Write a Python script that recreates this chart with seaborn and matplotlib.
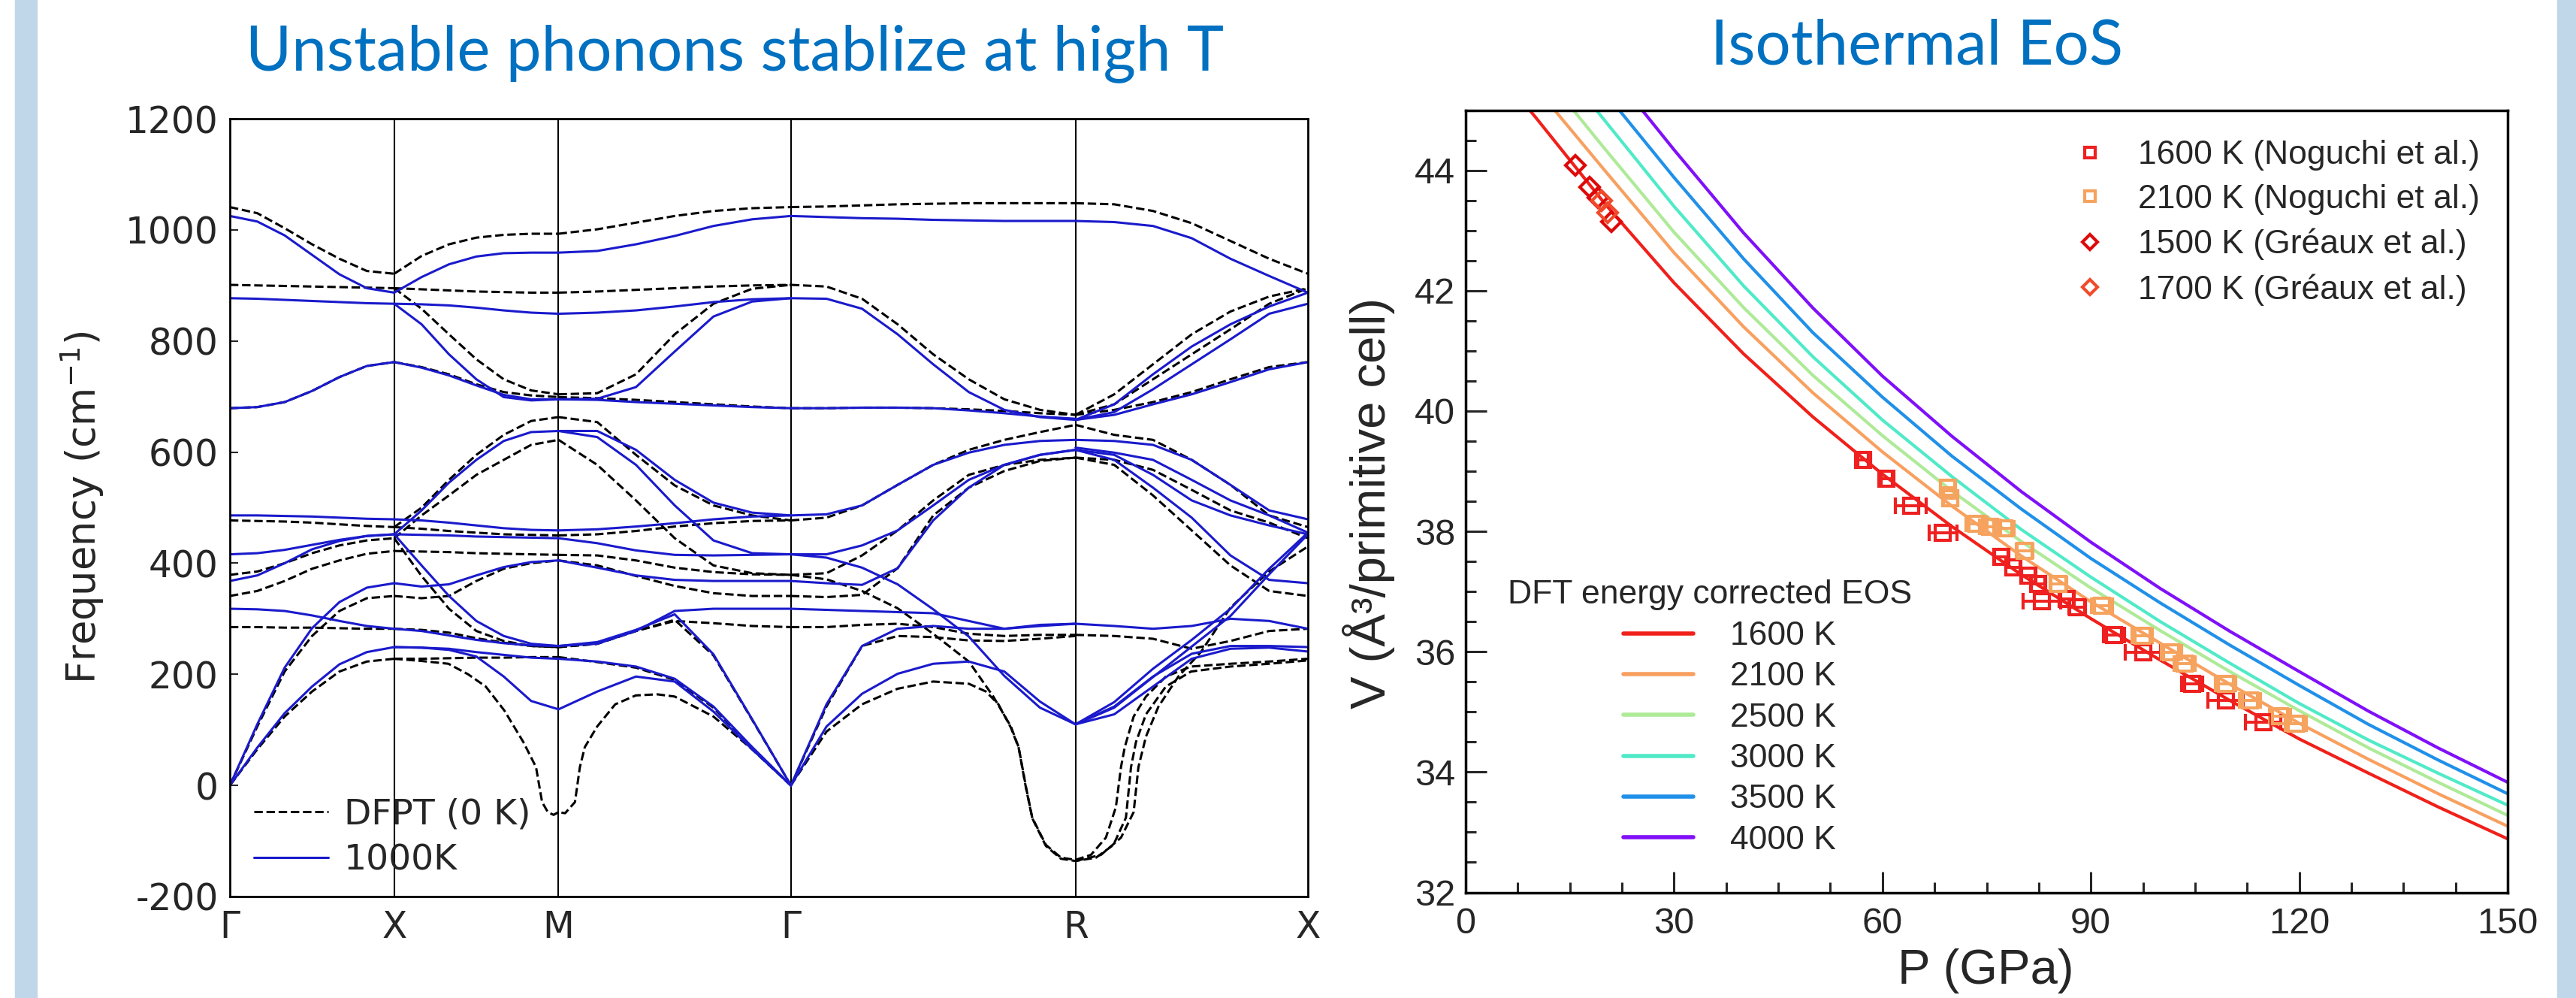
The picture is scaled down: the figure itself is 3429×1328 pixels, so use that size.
import numpy as np
import pandas as pd
import seaborn as sns
import matplotlib.pyplot as plt
from matplotlib.lines import Line2D
from matplotlib.patches import Rectangle
from matplotlib.ticker import MultipleLocator

############################################################## Phonon data (cm^-1)

k_labels = ['Γ', 'X', 'M', 'Γ', 'R', 'X']
seg_lengths = [1.0, 1.0, np.sqrt(2), np.sqrt(3), np.sqrt(2)]
k_nodes = np.concatenate([[0.0], np.cumsum(seg_lengths)])

# DFPT (0 K), one list of curves per path segment, values evenly spaced along the segment
dfpt_GX = [
    [1041, 1030, 1003, 974, 948, 926, 921],
    [901, 900, 899, 898, 897, 896, 895],
    [679, 681, 690, 710, 735, 755, 762],
    [477, 476, 475, 473, 470, 467, 465],
    [379, 385, 400, 418, 432, 441, 445],
    [341, 350, 368, 390, 405, 417, 422],
    [285, 285, 284, 284, 283, 282, 282],
    [0, 106, 205, 269, 314, 337, 341],
    [0, 65, 124, 169, 205, 223, 228],
]
dfpt_XM = [
    [921, 953, 974, 986, 991, 993, 993],
    [895, 893, 891, 889, 888, 887, 887],
    [895, 858, 812, 767, 731, 711, 704],
    [762, 753, 740, 722, 708, 702, 699],
    [465, 500, 550, 595, 631, 656, 663],
    [445, 486, 522, 559, 586, 613, 622],
    [465, 462, 458, 455, 452, 451, 450],
    [422, 421, 420, 418, 417, 416, 415],
    [445, 377, 318, 278, 260, 251, 249],
    [341, 337, 341, 368, 390, 400, 405],
    [282, 280, 275, 265, 257, 251, 249],
    [228, 228, 229, 230, 230, 231, 231],
]
dfpt_MG = [
    [993, 1001, 1013, 1025, 1034, 1039, 1041],
    [887, 889, 892, 895, 898, 900, 901],
    [704, 706, 740, 812, 867, 894, 901],
    [699, 697, 694, 690, 686, 682, 679],
    [663, 654, 595, 540, 504, 486, 477],
    [622, 577, 513, 445, 396, 382, 379],
    [450, 452, 458, 466, 472, 476, 477],
    [415, 414, 405, 392, 384, 380, 379],
    [405, 396, 377, 359, 346, 341, 341],
    [249, 255, 278, 296, 292, 287, 285],
    [249, 255, 278, 298, 234, 118, 0],
    [231, 222, 212, 190, 140, 68, 0],
]
dfpt_GR = [
    [1041, 1042, 1044, 1046, 1047, 1048, 1048, 1048, 1048],
    [901, 898, 876, 830, 776, 731, 695, 676, 667],
    [679, 679, 680, 680, 679, 677, 674, 670, 667],
    [477, 482, 504, 541, 577, 604, 622, 636, 649],
    [379, 382, 414, 459, 513, 559, 577, 586, 590],
    [341, 339, 343, 391, 486, 536, 566, 584, 590],
    [285, 285, 289, 291, 285, 273, 269, 271, 271],
    [0, 142, 251, 269, 267, 261, 260, 264, 269],
]
dfpt_RX = [
    [1048, 1046, 1034, 1012, 980, 948, 921],
    [667, 704, 758, 812, 853, 880, 895],
    [667, 686, 731, 776, 821, 867, 895],
    [667, 676, 690, 708, 731, 753, 762],
    [649, 631, 622, 586, 541, 486, 465],
    [590, 586, 568, 532, 495, 473, 445],
    [590, 577, 522, 459, 396, 350, 341],
    [271, 269, 264, 246, 260, 278, 282],
]

# DFPT soft modes (own k positions)
dip_M_k = [1.0, 1.167, 1.33, 1.45, 1.557, 1.67, 1.786, 1.863, 1.90, 1.935, 1.97, 2.0,
           2.04, 2.10, 2.13, 2.16, 2.235, 2.345, 2.47, 2.60, 2.707, 2.943, 3.178, 3.414]
dip_M_f = [228, 224, 219, 200, 178, 135, 78, 33, -30, -48, -53, -48,
           -50, -30, 33, 69, 106, 146, 162, 164, 160, 124, 65, 0]
softA_k = [3.414, 3.631, 3.847, 4.063, 4.280, 4.497, 4.646, 4.753, 4.800, 4.845, 4.883, 4.966, 5.058,
           5.146, 5.240, 5.331, 5.392, 5.423, 5.446, 5.500, 5.575, 5.696, 5.849, 6.089, 6.324, 6.560]
softA_f = [379, 371, 350, 319, 273, 223, 160, 106, 69, -3, -58, -107, -130,
           -134, -125, -94, -39, 33, 69, 124, 160, 196, 214, 219, 223, 228]
softB_k = [3.414, 3.631, 3.847, 4.063, 4.280, 4.497, 4.601, 4.677, 4.753, 4.800, 4.845, 4.883, 4.966, 5.058,
           5.146, 5.271, 5.377, 5.453, 5.484, 5.514, 5.575, 5.696, 5.849, 6.089, 6.324, 6.560]
softB_f = [0, 97, 146, 174, 187, 183, 169, 146, 104, 68, -5, -59, -109, -132,
           -136, -130, -107, -58, 33, 78, 128, 178, 205, 214, 219, 225]
softC_k = [5.146, 5.301, 5.423, 5.500, 5.529, 5.575, 5.651, 5.772, 5.909, 6.089, 6.324, 6.560]
softC_f = [-136, -125, -94, -48, 33, 88, 142, 196, 240, 320, 385, 430]

# 1000 K
hot_GX = [
    [1025, 1015, 990, 955, 920, 895, 887],
    [877, 876, 874, 872, 870, 868, 867],
    [679, 681, 690, 710, 735, 755, 762],
    [486, 486, 485, 484, 482, 480, 479],
    [416, 418, 424, 433, 442, 449, 452],
    [368, 378, 400, 425, 440, 449, 452],
    [318, 317, 314, 306, 296, 287, 282],
    [0, 110, 212, 283, 330, 356, 364],
    [0, 68, 130, 178, 218, 240, 249],
]
hot_XM = [
    [887, 915, 938, 952, 958, 959, 959],
    [867, 866, 864, 860, 855, 851, 849],
    [867, 830, 776, 731, 699, 693, 695],
    [762, 752, 738, 720, 703, 695, 695],
    [479, 477, 473, 468, 463, 460, 459],
    [452, 495, 545, 586, 620, 636, 638],
    [452, 451, 450, 448, 447, 446, 445],
    [452, 396, 341, 296, 269, 255, 251],
    [364, 358, 362, 378, 393, 402, 405],
    [282, 278, 270, 262, 256, 252, 251],
    [249, 248, 246, 240, 235, 230, 228],
    [249, 248, 244, 232, 196, 152, 137],
]
hot_MG = [
    [959, 962, 974, 989, 1007, 1019, 1025],
    [849, 851, 855, 862, 870, 875, 877],
    [695, 696, 717, 781, 844, 871, 877],
    [695, 694, 690, 687, 684, 681, 679],
    [638, 638, 604, 550, 509, 491, 486],
    [638, 627, 577, 504, 441, 418, 416],
    [459, 461, 466, 472, 479, 484, 486],
    [445, 436, 423, 415, 414, 415, 416],
    [405, 392, 378, 370, 368, 368, 368],
    [251, 255, 278, 314, 318, 318, 318],
    [251, 258, 280, 308, 236, 119, 0],
    [228, 223, 214, 192, 142, 69, 0],
    [137, 169, 196, 187, 133, 65, 0],
]
hot_GR = [
    [1025, 1023, 1021, 1020, 1018, 1017, 1016, 1016, 1016],
    [877, 876, 858, 812, 758, 708, 676, 663, 658],
    [679, 679, 680, 680, 679, 675, 670, 664, 660],
    [486, 488, 504, 541, 577, 599, 613, 620, 622],
    [416, 416, 432, 459, 504, 550, 577, 595, 604],
    [416, 410, 392, 362, 317, 268, 197, 140, 110],
    [368, 364, 361, 391, 477, 536, 577, 595, 604],
    [318, 316, 314, 312, 310, 296, 282, 289, 291],
    [0, 146, 251, 282, 287, 282, 282, 287, 291],
    [0, 106, 165, 201, 219, 223, 205, 151, 110],
]
hot_RX = [
    [1016, 1014, 1007, 985, 948, 917, 887],
    [658, 686, 740, 790, 830, 862, 887],
    [658, 672, 713, 758, 803, 849, 867],
    [658, 667, 686, 704, 726, 749, 762],
    [622, 620, 613, 586, 541, 495, 479],
    [608, 599, 586, 550, 513, 486, 455],
    [604, 595, 559, 513, 486, 468, 452],
    [604, 586, 536, 482, 414, 370, 364],
    [291, 287, 282, 287, 300, 296, 282],
    [110, 142, 196, 237, 251, 251, 249],
    [110, 128, 178, 228, 246, 248, 241],
    [110, 150, 210, 262, 318, 390, 455],
    [110, 140, 195, 250, 305, 380, 452],
]

############################################################## EOS data

eos_T = ['1600 K', '2100 K', '2500 K', '3000 K', '3500 K', '4000 K']
eos_colors = ['#f0201a', '#f8a060', '#aeea98', '#50eac8', '#2090e8', '#8010f8']
P_1600 = [9.2, 10, 20, 30, 40, 50, 60, 70, 80, 90, 100, 110, 120, 130, 140, 150]
V_1600 = [45.0, 44.89, 43.45, 42.13, 40.95, 39.90, 38.95, 38.08, 37.28, 36.55, 35.86, 35.19, 34.55, 33.98, 33.42, 32.89]
P_2100 = [12.8, 20, 30, 40, 50, 60, 70, 80, 90, 100, 110, 120, 130, 140, 150]
V_2100 = [45.0, 44.00, 42.63, 41.40, 40.30, 39.32, 38.42, 37.59, 36.83, 36.14, 35.46, 34.81, 34.21, 33.64, 33.10]
P_2500 = [15.5, 20, 30, 40, 50, 60, 70, 80, 90, 100, 110, 120, 130, 140, 150]
V_2500 = [45.0, 44.36, 42.97, 41.72, 40.59, 39.59, 38.67, 37.83, 37.06, 36.35, 35.67, 35.02, 34.40, 33.83, 33.28]
P_3000 = [18.8, 20, 30, 40, 50, 60, 70, 80, 90, 100, 110, 120, 130, 140, 150]
V_3000 = [45.0, 44.83, 43.40, 42.08, 40.90, 39.85, 38.91, 38.03, 37.24, 36.50, 35.81, 35.14, 34.53, 33.98, 33.45]
P_3500 = [22.1, 30, 40, 50, 60, 70, 80, 90, 100, 110, 120, 130, 140, 150]
V_3500 = [45.0, 43.88, 42.53, 41.30, 40.23, 39.25, 38.37, 37.55, 36.81, 36.11, 35.44, 34.79, 34.20, 33.64]
P_4000 = [25.4, 30, 40, 50, 60, 70, 80, 90, 100, 110, 120, 130, 140, 150]
V_4000 = [45.0, 44.34, 42.96, 41.71, 40.58, 39.58, 38.66, 37.82, 37.05, 36.34, 35.67, 35.01, 34.40, 33.83]

# experiments
nog1600_P = [57.2, 60.6, 64.1, 68.7, 77.1, 78.8, 81.0, 82.4, 82.9, 86.5, 88.0, 93.3, 97.5, 104.6, 109.4, 114.8]
nog1600_V = [39.19, 38.88, 38.42, 37.98, 37.57, 37.40, 37.26, 37.13, 36.84, 36.88, 36.74, 36.28, 35.99, 35.46, 35.19, 34.83]
nog1600_err = [0.8, 0.8, 2.2, 2.0, 1.0, 1.0, 1.0, 1.0, 2.7, 1.0, 1.2, 1.5, 2.5, 1.5, 2.5, 2.5]
nog2100_P = [69.4, 69.8, 73.5, 75.5, 77.5, 80.5, 85.3, 91.6, 97.4, 101.6, 103.5, 109.4, 112.9, 117.2, 119.5]
nog2100_V = [38.72, 38.55, 38.12, 38.08, 38.05, 37.67, 37.13, 36.76, 36.26, 35.99, 35.80, 35.46, 35.19, 34.93, 34.80]
nog2100_err = [1.0, 1.0, 1.5, 1.5, 1.5, 1.2, 1.2, 1.5, 1.5, 1.5, 1.5, 1.5, 1.5, 1.5, 1.5]
gre1500_P = [15.8, 17.8, 19.0, 21.0]
gre1500_V = [44.08, 43.72, 43.55, 43.15]
gre1700_P = [19.6, 20.4]
gre1700_V = [43.50, 43.30]

############################################################## Figure

sns.set_theme(style='white')
plt.rcParams['font.family'] = ['DejaVu Sans']
plt.rcParams['axes.unicode_minus'] = False

W, H = 3429, 1328
fig = plt.figure(figsize=(W / 100, H / 100), dpi=100)
fig.patches.append(Rectangle((20 / W, 0), 29 / W, 1, transform=fig.transFigure, color='#bfd7e9', zorder=0))
fig.patches.append(Rectangle((3404 / W, 0), 25 / W, 1, transform=fig.transFigure, color='#bfd7e9', zorder=0))

title_kw = dict(color='#0070c0', fontsize=60, family='Lato', ha='center', va='baseline')
fig.text(978 / W, 1 - 93 / H, 'Unstable phonons stablize at high T', **title_kw)
fig.text(2552 / W, 1 - 85 / H, 'Isothermal EoS', **title_kw)

############################################################## Left: phonons

rows = []
def add_segments(segs, label):
    for s, curves in enumerate(segs):
        for i, vals in enumerate(curves):
            ks = np.linspace(k_nodes[s], k_nodes[s + 1], len(vals))
            for kk, ff in zip(ks, vals):
                rows.append([label, f'{label}_{s}_{i}', kk, ff])

def add_curve(ks, vals, label, name):
    for kk, ff in zip(ks, vals):
        rows.append([label, name, kk, ff])

add_segments([dfpt_GX, dfpt_XM, dfpt_MG, dfpt_GR, dfpt_RX], 'DFPT (0 K)')
add_curve(dip_M_k, dip_M_f, 'DFPT (0 K)', 'dipM')
add_curve(softA_k, softA_f, 'DFPT (0 K)', 'softA')
add_curve(softB_k, softB_f, 'DFPT (0 K)', 'softB')
add_curve(softC_k, softC_f, 'DFPT (0 K)', 'softC')
add_segments([hot_GX, hot_XM, hot_MG, hot_GR, hot_RX], '1000K')
ph = pd.DataFrame(rows, columns=['set', 'curve', 'k', 'freq'])

ax1 = fig.add_axes([306 / W, 1 - 1193 / H, 1435 / W, 1035 / H])
blue = '#1a1acc'
sns.lineplot(data=ph[ph['set'] == 'DFPT (0 K)'], x='k', y='freq', units='curve', estimator=None, sort=False,
             color='black', linewidth=2.2, dashes=False, ax=ax1, legend=False)
for line in ax1.get_lines():
    line.set_linestyle((0, (3.7, 1.6)))
sns.lineplot(data=ph[ph['set'] == '1000K'], x='k', y='freq', units='curve', estimator=None, sort=False,
             color=blue, linewidth=2.2, ax=ax1, legend=False)
for kk in k_nodes[1:-1]:
    ax1.axvline(kk, color='black', lw=1.5, zorder=0)

ax1.set_xlim(k_nodes[0], k_nodes[-1])
ax1.set_ylim(-200, 1200)
ax1.set_xticks(k_nodes)
ax1.set_xticklabels(k_labels)
ax1.set_yticks(np.arange(-200, 1201, 200))
ax1.tick_params(axis='x', length=0, pad=12, labelsize=35)
ax1.tick_params(axis='y', left=True, direction='in', length=8, width=1.5, pad=11, labelsize=35)
for sp in ax1.spines.values():
    sp.set_color('black')
    sp.set_linewidth(2)
ax1.set_xlabel('')
ax1.set_ylabel('Frequency (cm$^{-1}$)', fontsize=38)
ax1.yaxis.set_label_coords(-0.115, 0.50)

h1 = [Line2D([], [], color='black', lw=2.2, ls=(0, (3.7, 1.6))), Line2D([], [], color=blue, lw=2.2)]
ax1.legend(h1, ['DFPT (0 K)', '1000K'], loc='center left', bbox_to_anchor=(0.022, 0.076), frameon=False,
           prop={'family': 'DejaVu Sans', 'size': 34}, handlelength=2.1, handletextpad=0.45,
           labelspacing=0.35, borderpad=0, borderaxespad=0)

############################################################## Right: EOS

eos = pd.concat([
    pd.DataFrame({'P': p, 'V': v, 'T': t}) for p, v, t in
    zip([P_1600, P_2100, P_2500, P_3000, P_3500, P_4000],
        [V_1600, V_2100, V_2500, V_3000, V_3500, V_4000], eos_T)
])

ax2 = fig.add_axes([1951 / W, 1 - 1187.5 / H, 1387 / W, 1041 / H])
sns.lineplot(data=eos, x='P', y='V', hue='T', hue_order=eos_T, palette=eos_colors, estimator=None,
             linewidth=3, ax=ax2, legend=False)

c1600, c2100, c1500, c1700 = '#ee2020', '#f5a35e', '#dd0a0a', '#f04a2a'
eb = dict(ls='none', mfc='none', mew=3, elinewidth=2.8, capsize=8, capthick=2.8, zorder=5)
ax2.errorbar(nog1600_P, nog1600_V, xerr=nog1600_err, marker='s', ms=14, color=c1600, **eb)
ax2.errorbar(nog2100_P, nog2100_V, xerr=nog2100_err, marker='s', ms=14, color=c2100, **eb)
ax2.plot(gre1500_P, gre1500_V, ls='none', marker='D', ms=13, mfc='none', mew=3, color=c1500, zorder=6)
ax2.plot(gre1700_P, gre1700_V, ls='none', marker='D', ms=13, mfc='none', mew=3, color=c1700, zorder=6)

ax2.set_xlim(0, 150)
ax2.set_ylim(32, 45)
ax2.xaxis.set_minor_locator(MultipleLocator(7.5))
ax2.yaxis.set_minor_locator(MultipleLocator(0.5))
ax2.set_xticks(np.arange(0, 151, 30))
ax2.set_xticklabels([str(v) for v in range(0, 151, 30)], fontfamily='Liberation Sans', fontsize=35)
ax2.set_yticks(np.arange(32, 45, 2))
ax2.set_yticklabels([str(v) for v in range(32, 45, 2)], fontfamily='Liberation Sans', fontsize=35)
ax2.tick_params(which='both', direction='in', bottom=True, left=True, top=False, right=False, width=2.2)
ax2.tick_params(which='major', length=20)
ax2.tick_params(which='minor', length=10)
ax2.tick_params(axis='x', which='major', pad=14)
ax2.tick_params(axis='y', which='major', pad=10)
for sp in ax2.spines.values():
    sp.set_color('black')
    sp.set_linewidth(2.5)
ax2.set_xlabel('P (GPa)', fontfamily='Liberation Sans', fontsize=47)
ax2.set_ylabel('V (Å³/primitive cell)', fontfamily='Liberation Sans', fontsize=47)
ax2.xaxis.set_label_coords(0.499, -0.072)
ax2.yaxis.set_label_coords(-0.068, 0.498)

lab_font = {'family': 'Liberation Sans', 'size': 32}
h2 = [Line2D([], [], ls='none', marker='s', ms=10, mfc='none', mew=3, color=c1600),
      Line2D([], [], ls='none', marker='s', ms=10, mfc='none', mew=3, color=c2100),
      Line2D([], [], ls='none', marker='D', ms=10, mfc='none', mew=3, color=c1500),
      Line2D([], [], ls='none', marker='D', ms=10, mfc='none', mew=3, color=c1700)]
leg2 = ax2.legend(h2, ['1600 K (Noguchi et al.)', '2100 K (Noguchi et al.)',
                       '1500 K (Gréaux et al.)', '1700 K (Gréaux et al.)'],
                  loc='center left', bbox_to_anchor=(0.583, 0.856), frameon=False, prop=lab_font,
                  handlelength=1.0, handletextpad=0.95, labelspacing=0.4, borderpad=0, borderaxespad=0)
ax2.add_artist(leg2)

h3 = [Line2D([], [], color=c, lw=4) for c in eos_colors]
ax2.legend(h3, eos_T, loc='center left', bbox_to_anchor=(0.1514, 0.197), frameon=False, prop=lab_font,
           handlelength=2.1, handletextpad=1.1, labelspacing=0.30, borderpad=0, borderaxespad=0)
ax2.text(0.0404, 0.380, 'DFT energy corrected EOS', transform=ax2.transAxes, va='center', ha='left',
         fontfamily='Liberation Sans', fontsize=32)

fig.savefig('out.png', dpi=100)
